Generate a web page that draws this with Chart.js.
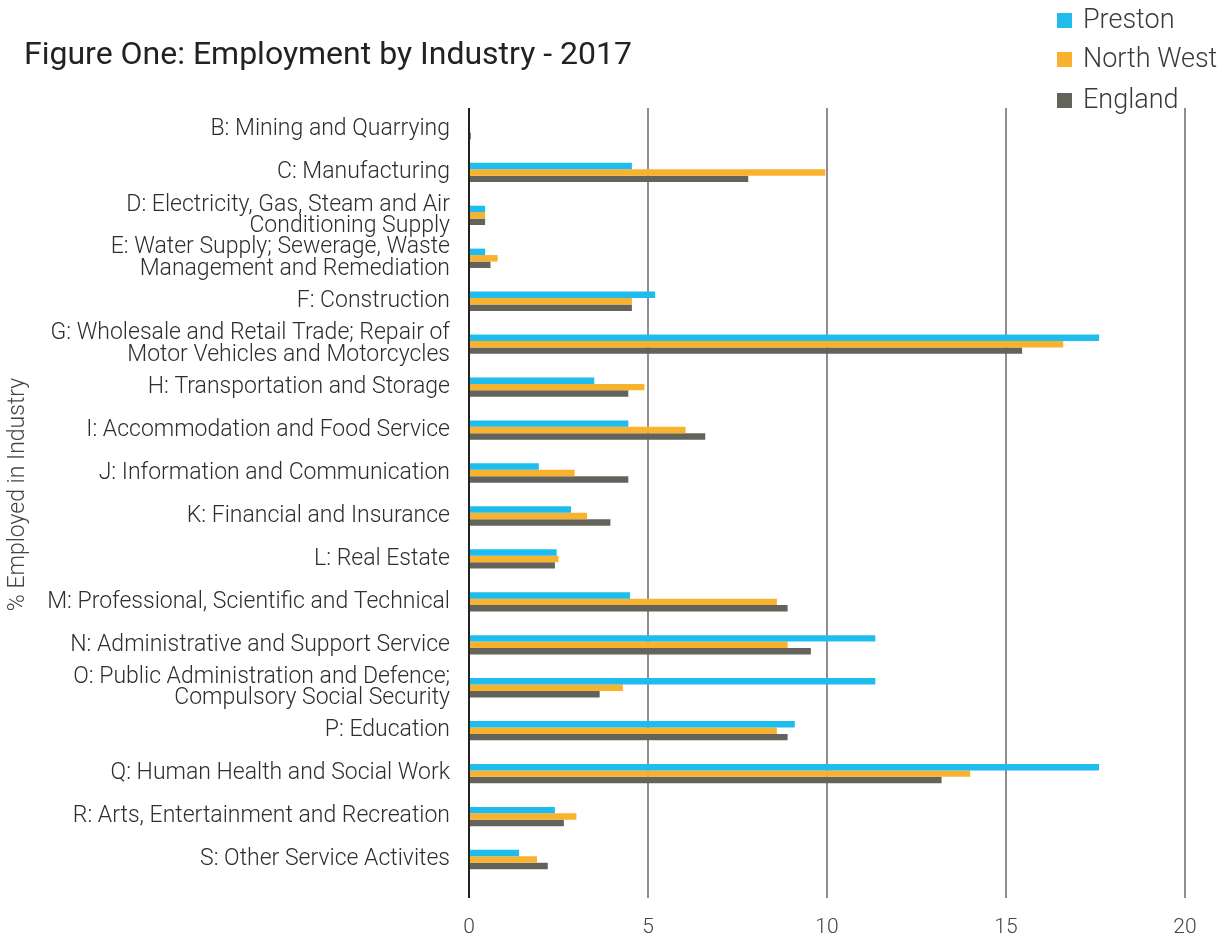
<!DOCTYPE html>
<html>
<head>
<meta charset="utf-8">
<script src="https://cdn.jsdelivr.net/npm/chart.js@4"></script>
<style>
  html, body { margin: 0; padding: 0; background: #fff; }
  #wrap { position: relative; width: 1224px; height: 940px; }
</style>
</head>
<body>
<div id="wrap"><canvas id="chart"></canvas></div>
<script>
const industries = [
  'B: Mining and Quarrying',
  'C: Manufacturing',
  ['D: Electricity, Gas, Steam and Air', 'Conditioning Supply'],
  ['E: Water Supply; Sewerage, Waste', 'Management and Remediation'],
  'F: Construction',
  ['G: Wholesale and Retail Trade; Repair of', 'Motor Vehicles and Motorcycles'],
  'H: Transportation and Storage',
  'I: Accommodation and Food Service',
  'J: Information and Communication',
  'K: Financial and Insurance',
  'L: Real Estate',
  'M: Professional, Scientific and Technical',
  'N: Administrative and Support Service',
  ['O: Public Administration and Defence;', 'Compulsory Social Security'],
  'P: Education',
  'Q: Human Health and Social Work',
  'R: Arts, Entertainment and Recreation',
  'S: Other Service Activites'
];

const preston   = [0, 4.55, 0.45, 0.45, 5.2, 17.6, 3.5, 4.45, 1.95, 2.85, 2.45, 4.5, 11.35, 11.35, 9.1, 17.6, 2.4, 1.4];
const northWest = [0, 9.95, 0.45, 0.8, 4.55, 16.6, 4.9, 6.05, 2.95, 3.3, 2.5, 8.6, 8.9, 4.3, 8.6, 14.0, 3.0, 1.9];
const england   = [0.05, 7.8, 0.45, 0.6, 4.55, 15.45, 4.45, 6.6, 4.45, 3.95, 2.4, 8.9, 9.55, 3.65, 8.9, 13.2, 2.65, 2.2];

const xTicks = [0, 5, 10, 15, 20];

const colors = { preston: '#1fbdee', northWest: '#f9b22d', england: '#63635c' };
const textFont = 'Roboto';

// title and legend drawn by hand so they sit where the original has them
const headerPlugin = {
  id: 'header',
  afterDraw(chart) {
    const ctx = chart.ctx;
    ctx.save();
    ctx.fillStyle = '#222';
    ctx.font = '400 32px ' + textFont;
    ctx.textBaseline = 'middle';
    ctx.textAlign = 'left';
    ctx.fillText('Figure One: Employment by Industry - 2017', 24, 56);

    const rowsY = [20, 59, 100];
    ctx.font = '300 27px ' + textFont;
    chart.data.datasets.forEach((ds, i) => {
      ctx.fillStyle = ds.backgroundColor;
      ctx.fillRect(1057, rowsY[i] - 7, 15, 15);
      ctx.fillStyle = '#3a3a3a';
      ctx.fillText(ds.label, 1083, rowsY[i] + 1);
    });
    ctx.restore();
  }
};

new Chart(document.getElementById('chart'), {
  type: 'bar',
  data: {
    labels: industries,
    datasets: [
      { label: 'Preston', data: preston, backgroundColor: colors.preston },
      { label: 'North West', data: northWest, backgroundColor: colors.northWest },
      { label: 'England', data: england, backgroundColor: colors.england }
    ]
  },
  options: {
    indexAxis: 'y',
    responsive: true,
    maintainAspectRatio: false,
    animation: false,
    layout: { padding: { top: 108, right: 39, bottom: 0, left: 0 } },
    datasets: {
      bar: { categoryPercentage: 0.45, barPercentage: 1 }
    },
    plugins: {
      legend: { display: false },
      title: { display: false },
      tooltip: { enabled: false }
    },
    scales: {
      x: {
        min: 0,
        max: 20,
        afterBuildTicks(scale) {
          scale.ticks = xTicks.map(v => ({ value: v }));
        },
        afterFit(scale) { scale.height = 59; },
        grid: {
          color: ctx => ctx.tick && ctx.tick.value === 0 ? '#222' : '#8e8e8e',
          lineWidth: 2,
          drawTicks: true,
          tickLength: 17
        },
        border: { display: false },
        ticks: {
          color: '#444',
          padding: 17,
          font: { family: textFont, size: 21, weight: '300' }
        }
      },
      y: {
        afterFit(scale) { scale.width = 469; },
        grid: { display: false, drawTicks: false },
        border: { display: false },
        ticks: {
          color: '#2e2e2e',
          padding: 19,
          autoSkip: false,
          font: { family: textFont, size: 23, weight: '300', lineHeight: 0.92 }
        },
        title: {
          display: true,
          text: '% Employed in Industry',
          color: '#444',
          padding: { top: 4, bottom: 0 },
          font: { family: textFont, size: 23, weight: '300' }
        }
      }
    }
  },
  plugins: [headerPlugin]
});
</script>
</body>
</html>
